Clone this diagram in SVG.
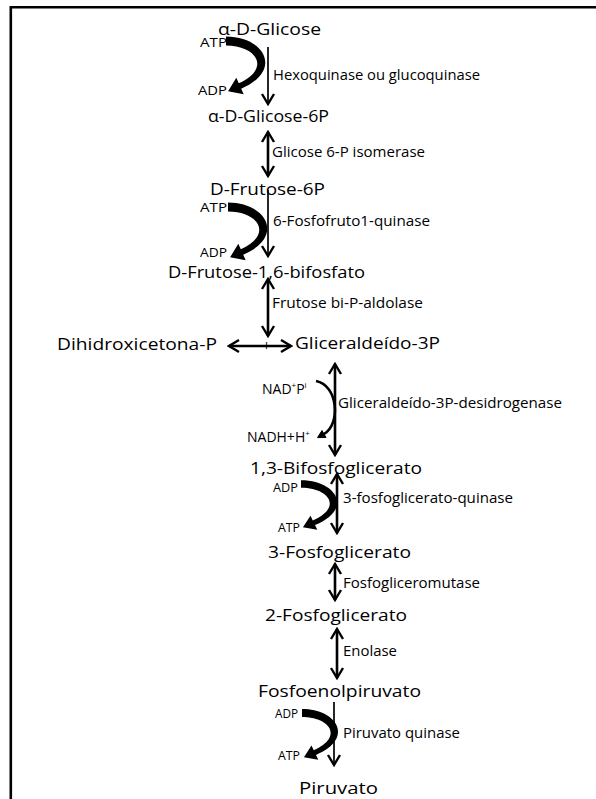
<svg xmlns="http://www.w3.org/2000/svg" width="596" height="799" viewBox="0 0 596 799">
<style>
text{font-family:"Open Sans","DejaVu Sans",sans-serif;fill:#000}
.m{font-size:17px}
.e{font-size:14px}
.s{font-size:12px}
.n{font-size:14px}
.ln{stroke:#000;fill:none}
.th{stroke-width:1.7}
.tk{stroke-width:2.6}
</style>
<defs>
<marker id="ah" viewBox="-12 -8 14 16" refX="0" refY="0" markerWidth="14" markerHeight="16" markerUnits="userSpaceOnUse" orient="auto-start-reverse">
<path d="M -10 -6 L 0 0 L -10 6" fill="none" stroke="#000" stroke-width="2.4"/>
</marker>
<path id="crv" d="M 0 -4.5 C 38 -4.5 58 29 15.2 47.7 L 17.7 53.2 L 2.1 50.3 L 10.3 36.8 L 12.8 42.3 C 46 27 30 4.5 0 4.5 Z" fill="#000"/>
</defs>
<rect width="596" height="799" fill="#fff"/>
<g id="frame">
<path d="M 10.8 799 L 10.8 7.3 L 596 7.3" fill="none" stroke="#000" stroke-width="2.6"/>
</g>
<g id="connectors">
<line class="ln th" x1="268" y1="47" x2="268" y2="104" marker-end="url(#ah)"/>
<line class="ln tk" x1="268" y1="132" x2="268" y2="176" marker-start="url(#ah)" marker-end="url(#ah)"/>
<line class="ln th" x1="268" y1="190" x2="268" y2="256" marker-end="url(#ah)"/>
<line class="ln tk" x1="268" y1="279" x2="268" y2="336" marker-start="url(#ah)" marker-end="url(#ah)"/>
<line class="ln tk" x1="229" y1="346" x2="291" y2="346" marker-start="url(#ah)" marker-end="url(#ah)"/>
<line class="ln tk" x1="335" y1="364" x2="335" y2="455" marker-start="url(#ah)" marker-end="url(#ah)"/>
<line class="ln tk" x1="337" y1="474" x2="337" y2="533" marker-start="url(#ah)" marker-end="url(#ah)"/>
<line class="ln tk" x1="335" y1="564" x2="335" y2="600" marker-start="url(#ah)" marker-end="url(#ah)"/>
<line class="ln tk" x1="337" y1="629" x2="337" y2="678" marker-start="url(#ah)" marker-end="url(#ah)"/>
<line class="ln th" x1="334" y1="702" x2="334" y2="765" marker-end="url(#ah)"/>
<use href="#crv" transform="translate(226,41)"/>
<use href="#crv" transform="translate(228,207)"/>
<use href="#crv" transform="translate(301,484) scale(0.92,0.86)"/>
<use href="#crv" transform="translate(302,713) scale(0.92,0.88)"/>
<path d="M 316 381 C 338 385 341 424 324 434" fill="none" stroke="#000" stroke-width="2.6"/>
<path d="M 326 437.5 L 317.5 437.6 L 322 430.5 Z" fill="#000" stroke="#000" stroke-width="1"/>
</g>
<g id="n-glicose"><text class="m" x="218" y="35" textLength="103" lengthAdjust="spacingAndGlyphs">α-D-Glicose</text></g>
<g id="n-glicose6p"><text class="m" x="208" y="122" textLength="121" lengthAdjust="spacingAndGlyphs">α-D-Glicose-6P</text></g>
<g id="n-frutose6p"><text class="m" x="210" y="195" textLength="115" lengthAdjust="spacingAndGlyphs">D-Frutose-6P</text></g>
<g id="n-frutose16"><text class="m" x="168" y="278" textLength="197" lengthAdjust="spacingAndGlyphs">D-Frutose-1,6-bifosfato</text></g>
<g id="n-dhap"><text class="m" x="57" y="350" textLength="160" lengthAdjust="spacingAndGlyphs">Dihidroxicetona-P</text></g>
<g id="n-g3p"><text class="m" x="295" y="349" textLength="145" lengthAdjust="spacingAndGlyphs">Gliceraldeído-3P</text></g>
<g id="n-13bpg"><text class="m" x="250" y="474" textLength="172" lengthAdjust="spacingAndGlyphs">1,3-Bifosfoglicerato</text></g>
<g id="n-3pg"><text class="m" x="268" y="558" textLength="143" lengthAdjust="spacingAndGlyphs">3-Fosfoglicerato</text></g>
<g id="n-2pg"><text class="m" x="265" y="621" textLength="142" lengthAdjust="spacingAndGlyphs">2-Fosfoglicerato</text></g>
<g id="n-pep"><text class="m" x="258" y="697" textLength="163" lengthAdjust="spacingAndGlyphs">Fosfoenolpiruvato</text></g>
<g id="n-piruvato"><text class="m" x="299" y="794" textLength="79" lengthAdjust="spacingAndGlyphs">Piruvato</text></g>
<g id="labels">
<text class="e" x="273" y="80" textLength="207" lengthAdjust="spacingAndGlyphs">Hexoquinase ou glucoquinase</text>
<text class="e" x="272" y="157" textLength="153" lengthAdjust="spacingAndGlyphs">Glicose 6-P isomerase</text>
<text class="e" x="273" y="226" textLength="157" lengthAdjust="spacingAndGlyphs">6-Fosfofruto1-quinase</text>
<text class="e" x="272" y="308" textLength="151" lengthAdjust="spacingAndGlyphs">Frutose bi-P-aldolase</text>
<text class="e" x="338" y="408" textLength="224" lengthAdjust="spacingAndGlyphs">Gliceraldeído-3P-desidrogenase</text>
<text class="e" x="343" y="503" textLength="170" lengthAdjust="spacingAndGlyphs">3-fosfoglicerato-quinase</text>
<text class="e" x="343" y="588" textLength="137" lengthAdjust="spacingAndGlyphs">Fosfogliceromutase</text>
<text class="e" x="343" y="656" textLength="54" lengthAdjust="spacingAndGlyphs">Enolase</text>
<text class="e" x="343" y="738" textLength="117" lengthAdjust="spacingAndGlyphs">Piruvato quinase</text>
<text class="s" x="200" y="47" textLength="27" lengthAdjust="spacingAndGlyphs">ATP</text>
<text class="s" x="198" y="95" textLength="29" lengthAdjust="spacingAndGlyphs">ADP</text>
<text class="s" x="200" y="212" textLength="27" lengthAdjust="spacingAndGlyphs">ATP</text>
<text class="s" x="200" y="257" textLength="27" lengthAdjust="spacingAndGlyphs">ADP</text>
<text class="s" x="273" y="492" font-size="11.5" textLength="25" lengthAdjust="spacingAndGlyphs">ADP</text>
<text class="s" x="278" y="532" textLength="22" lengthAdjust="spacingAndGlyphs">ATP</text>
<text class="s" x="275" y="718" textLength="23" lengthAdjust="spacingAndGlyphs">ADP</text>
<text class="s" x="278" y="760" textLength="22" lengthAdjust="spacingAndGlyphs">ATP</text>
<text class="n" x="262" y="394">NAD<tspan font-size="8" dy="-6">+</tspan><tspan dy="6">P</tspan><tspan font-size="8" dy="-6">i</tspan></text>
<text class="n" x="247" y="442">NADH+H<tspan font-size="8" dy="-6">+</tspan></text>
<text class="e" x="266.5" y="351" text-anchor="middle">+</text>
</g>
</svg>
